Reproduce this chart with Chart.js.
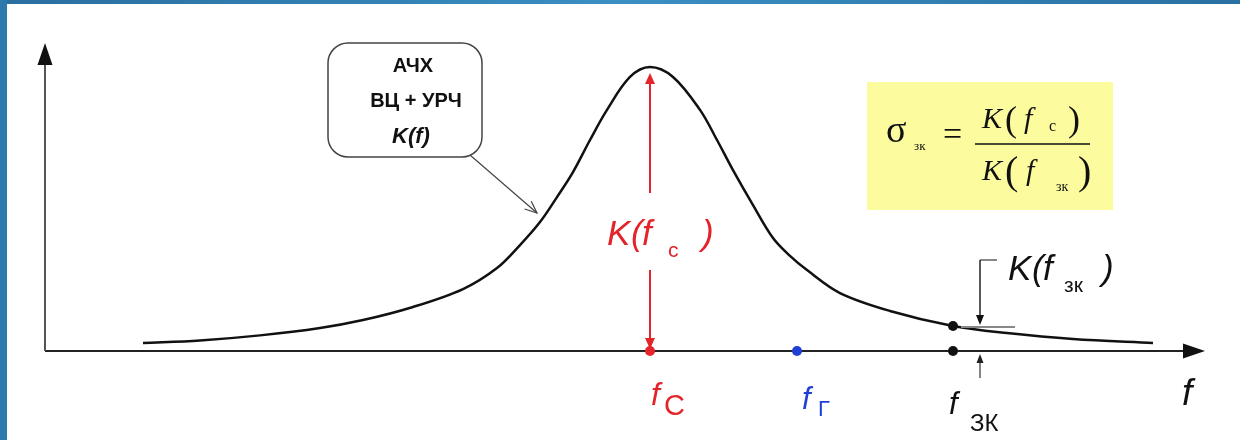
<!DOCTYPE html>
<html>
<head>
<meta charset="utf-8">
<script src="https://cdn.jsdelivr.net/npm/chart.js@4.4.1/dist/chart.umd.min.js"></script>
<style>
html, body { margin: 0; padding: 0; background: #fff; }
#wrap { position: relative; width: 1240px; height: 440px; overflow: hidden; }
#c { position: absolute; left: 0; top: 0; }
#top { position: absolute; left: 0; top: 0; width: 1240px; height: 4px;
       background: linear-gradient(90deg, #2a6e9f, #3b8fc3 50%, #2a70a2); }
#left { position: absolute; left: 0; top: 0; width: 7px; height: 440px; background: #2c7aac; }
</style>
</head>
<body>
<div id="wrap">
  <canvas id="c" width="1240" height="440"></canvas>
  <div id="top"></div>
  <div id="left"></div>
</div>
<script>
// frequency response K(f) of the input circuit + RF amplifier (arbitrary units)
const freq = [9.8, 15.5, 21.5, 27.5, 31.8, 36.8, 41.8, 45.2, 47.5, 49.5, 51.2, 52.8, 54.5, 56.2, 58.5, 60.5,
              62.8, 65.5, 67.2, 68.8, 70.8, 72.8, 74.5, 76.2, 79.5, 84.5, 90.8, 96.2, 102.8, 110.8];
const gain = [0.028, 0.037, 0.055, 0.081, 0.109, 0.155, 0.218, 0.292, 0.373, 0.454, 0.542, 0.630, 0.743, 0.849, 0.965, 1.0,
              0.965, 0.849, 0.743, 0.637, 0.514, 0.398, 0.335, 0.285, 0.204, 0.141, 0.088, 0.063, 0.042, 0.028];

// marked frequencies: signal, heterodyne, image channel
const markFreq = [60.5, 75.2, 90.8, 90.8];
const markGain = [0, 0, 0, 0.088];
const markColors = ['#e3242b', '#1f3fd6', '#111', '#111'];

const RED = '#e3242b';
const BLUE = '#1f3fd6';

function head(ctx, tx, ty, ang, len, hw, color) {
    ctx.save();
    ctx.translate(tx, ty);
    ctx.rotate(ang);
    ctx.fillStyle = color;
    ctx.beginPath();
    ctx.moveTo(0, 0);
    ctx.lineTo(-len, -hw);
    ctx.lineTo(-len, hw);
    ctx.closePath();
    ctx.fill();
    ctx.restore();
}

function line(ctx, x1, y1, x2, y2, color, w) {
    ctx.strokeStyle = color;
    ctx.lineWidth = w;
    ctx.beginPath();
    ctx.moveTo(x1, y1);
    ctx.lineTo(x2, y2);
    ctx.stroke();
}

function txt(ctx, s, x, y, font, color, align) {
    ctx.font = font;
    ctx.fillStyle = color;
    ctx.textAlign = align || 'left';
    ctx.textBaseline = 'alphabetic';
    ctx.fillText(s, x, y);
}

// K ( f  sub )  spaced like the original drawing
function kLabel(ctx, x, y, sub, subDx, closeDx, color) {
    const big = 'italic 35px "Liberation Sans", Arial';
    txt(ctx, 'K', x, y, big, color);
    txt(ctx, '(', x + 24, y, big, color);
    txt(ctx, 'f', x + 35, y, big, color);
    txt(ctx, sub, x + subDx, y + 12, '21px "Liberation Sans", Arial', color);
    txt(ctx, ')', x + closeDx, y, big, color);
}

const sketch = {
    id: 'sketch',
    beforeDatasetsDraw(chart) {
        const { ctx, chartArea: a, scales: { x, y } } = chart;
        const y0 = y.getPixelForValue(0);
        const xC = x.getPixelForValue(markFreq[0]);
        const yPk = y.getPixelForValue(1);
        ctx.save();
        // axes
        line(ctx, a.left, y0, a.right - 18, y0, '#222', 2);
        line(ctx, a.left, y0, a.left, a.top + 18, '#555', 2);
        head(ctx, a.right, y0, 0, 22, 7.5, '#111');
        head(ctx, a.left, a.top - 2, -Math.PI / 2, 22, 7.5, '#111');

        // red K(fc) double arrow
        line(ctx, xC, yPk + 16, xC, 193, RED, 2);
        line(ctx, xC, 270, xC, y0 - 12, RED, 2);
        head(ctx, xC, yPk + 6, -Math.PI / 2, 11, 5, RED);
        head(ctx, xC, y0 - 2, Math.PI / 2, 11, 5, RED);
        ctx.restore();
    },
    afterDatasetsDraw(chart) {
        const { ctx, scales: { x, y } } = chart;
        const y0 = y.getPixelForValue(0);
        const xC = x.getPixelForValue(markFreq[0]);
        const xG = x.getPixelForValue(markFreq[1]);
        const xZ = x.getPixelForValue(markFreq[2]);
        const yZ = y.getPixelForValue(markGain[3]);
        ctx.save();

        // K(fc) label
        kLabel(ctx, xC - 43, 245, 'с', 61, 95, RED);

        // frequency labels under the axis
        txt(ctx, 'f', xC + 1, 405, 'italic 32px "Liberation Sans", Arial', RED);
        txt(ctx, 'С', xC + 14, 415, '29px "Liberation Sans", Arial', RED);
        txt(ctx, 'f', xG + 5, 409, 'italic 31px "Liberation Sans", Arial', BLUE);
        txt(ctx, 'Г', xG + 21, 416, '22px "Liberation Sans", Arial', BLUE);
        txt(ctx, 'f', xZ - 4, 414, 'italic 31px "Liberation Sans", Arial', '#111');
        txt(ctx, 'ЗК', xZ + 17, 431, '24px "Liberation Sans", Arial', '#111');
        txt(ctx, 'f', 1182, 405, 'italic 37px "Liberation Sans", Arial', '#111');

        // small arrow to the axis at f зк
        line(ctx, xZ + 27, 378, xZ + 27, 362, '#333', 1.2);
        head(ctx, xZ + 27, y0 + 3, -Math.PI / 2, 9, 3.5, '#222');

        // K(f зк) bracket
        line(ctx, xZ + 44, 260, xZ + 27, 260, '#888', 2);
        line(ctx, xZ + 27, 260, xZ + 27, yZ - 8, '#222', 1.5);
        head(ctx, xZ + 27, yZ - 1, Math.PI / 2, 10, 4, '#111');
        line(ctx, xZ + 8, yZ + 1, xZ + 62, yZ + 1, '#888', 2);
        kLabel(ctx, xZ + 55, 280, 'зк', 56, 94, '#111');

        // callout box
        ctx.strokeStyle = '#444';
        ctx.lineWidth = 1.5;
        ctx.beginPath();
        ctx.roundRect(328, 43, 154, 114, 20);
        ctx.stroke();
        txt(ctx, 'АЧХ', 413, 72, 'bold 20px "Liberation Sans", Arial', '#111', 'center');
        txt(ctx, 'ВЦ + УРЧ', 416, 107, 'bold 20px "Liberation Sans", Arial', '#111', 'center');
        txt(ctx, 'K(f)', 411, 143, 'bold italic 22px "Liberation Sans", Arial', '#111', 'center');
        // callout pointer
        const tx = 537, ty = 213, sx = 470, sy = 155;
        const ang = Math.atan2(ty - sy, tx - sx);
        line(ctx, sx, sy, tx, ty, '#444', 1.2);
        ctx.beginPath();
        ctx.moveTo(tx - 13 * Math.cos(ang - 0.4), ty - 13 * Math.sin(ang - 0.4));
        ctx.lineTo(tx, ty);
        ctx.lineTo(tx - 13 * Math.cos(ang + 0.4), ty - 13 * Math.sin(ang + 0.4));
        ctx.stroke();

        // formula box
        ctx.fillStyle = '#fcfc9f';
        ctx.fillRect(867, 82, 246, 128);
        const serif = '"Liberation Serif", "Times New Roman", serif';
        txt(ctx, 'σ', 886, 142, '38px ' + serif, '#111');
        txt(ctx, 'зк', 914, 150, '13px ' + serif, '#111');
        txt(ctx, '=', 943, 145, '34px ' + serif, '#111');
        line(ctx, 975, 144, 1090, 144, '#111', 1.5);
        txt(ctx, 'K', 982, 128, 'italic 30px ' + serif, '#111');
        txt(ctx, '(', 1005, 131, '36px ' + serif, '#111');
        txt(ctx, 'f', 1024, 128, 'italic 30px ' + serif, '#111');
        txt(ctx, 'с', 1049, 131, '16px ' + serif, '#111');
        txt(ctx, ')', 1068, 131, '36px ' + serif, '#111');
        txt(ctx, 'K', 982, 180, 'italic 30px ' + serif, '#111');
        txt(ctx, '(', 1005, 184, '40px ' + serif, '#111');
        txt(ctx, 'f', 1026, 180, 'italic 30px ' + serif, '#111');
        txt(ctx, 'зк', 1056, 191, '14px ' + serif, '#111');
        txt(ctx, ')', 1078, 184, '40px ' + serif, '#111');
        ctx.restore();
    }
};

const curve = freq.map((f, i) => ({ x: f, y: gain[i] }));
const marks = markFreq.map((f, i) => ({ x: f, y: markGain[i] }));

new Chart(document.getElementById('c').getContext('2d'), {
    type: 'scatter',
    data: {
        datasets: [
            {
                label: 'K(f)',
                data: curve,
                showLine: true,
                borderColor: '#111',
                borderWidth: 2.5,
                pointRadius: 0,
                tension: 0.35,
                clip: false,
                order: 2
            },
            {
                label: 'marks',
                data: marks,
                showLine: false,
                pointRadius: 5,
                pointBackgroundColor: markColors,
                pointBorderWidth: 0,
                clip: false,
                order: 1
            }
        ]
    },
    options: {
        responsive: false,
        animation: false,
        layout: { padding: { left: 45, right: 35, top: 45, bottom: 89 } },
        plugins: { legend: { display: false }, tooltip: { enabled: false } },
        scales: {
            x: { type: 'linear', min: 0, max: 116, display: false },
            y: { type: 'linear', min: 0, max: 1.0775, display: false }
        }
    },
    plugins: [sketch]
});
</script>
</body>
</html>
